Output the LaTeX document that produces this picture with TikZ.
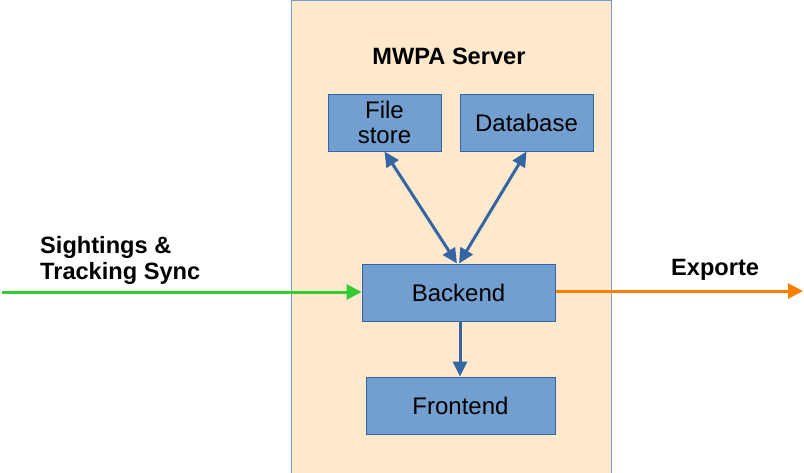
\documentclass[tikz,border=0pt]{standalone}
\usepackage{fontspec}
\setmainfont{Liberation Sans}
\usetikzlibrary{arrows.meta}
\definecolor{srvfill}{HTML}{FFE9CC}
\definecolor{srvline}{HTML}{729FCF}
\definecolor{boxfill}{HTML}{729FCF}
\definecolor{boxline}{HTML}{3465A4}
\definecolor{arrblue}{HTML}{3465A4}
\definecolor{ingreen}{HTML}{33CC33}
\definecolor{outorange}{HTML}{FF8000}
\begin{document}
\begin{tikzpicture}[x=1pt,y=-1pt,
  compbox/.style={draw=boxline,fill=boxfill,line width=1pt,inner sep=0pt,
    minimum height=57pt,align=center,font=\fontsize{24}{25.5}\selectfont},
  bluearrow/.style={draw=arrblue,line width=3pt,
    {Triangle[length=15pt,width=14pt]}-{Triangle[length=15pt,width=14pt]}},
  bluearrowone/.style={draw=arrblue,line width=3pt,
    -{Triangle[length=15pt,width=14pt]}},
  lbl/.style={font=\fontsize{23.6}{26}\selectfont\bfseries,inner sep=0pt}
]
\useasboundingbox (0,0) rectangle (804,472);
\fill[white] (0,0) rectangle (804,472);
\node[draw=srvline,fill=srvfill,line width=1pt,minimum width=320pt,minimum height=480pt,inner sep=0pt] (server) at (451,240.7) {};
\node[lbl,anchor=base] (title) at (449,64) {MWPA Server};
\node[compbox,minimum width=113pt] (files) at (384.5,122.5) {File\\store};
\node[compbox,minimum width=133pt] (db) at (526.5,122.5) {Database};
\node[compbox,minimum width=193pt] (backend) at (458.5,292.5) {Backend};
\node[compbox,minimum width=189pt] (frontend) at (460.5,405.5) {Frontend};
\draw[bluearrow] (files.south) -- ([xshift=-1.5pt]backend.north);
\draw[bluearrow] (db.south) -- ([xshift=0.5pt]backend.north);
\draw[bluearrowone] ([xshift=1.5pt]backend.south) -- ([xshift=-0.5pt]frontend.north);
\coordinate (inbeg) at (2,292);
\coordinate (outend) at (803,291);
\draw[ingreen,line width=3pt,-{Triangle[length=15pt,width=15pt]}] (inbeg) -- (backend.west |- inbeg);
\draw[outorange,line width=3pt,-{Triangle[length=15pt,width=15pt]}] (backend.east |- outend) -- (outend);
\node[lbl,anchor=base west,align=left] (sync) at (40,279) {Sightings \&\\Tracking Sync};
\node[lbl,anchor=base west] (exp) at (671,275) {Exporte};
\end{tikzpicture}
\end{document}
